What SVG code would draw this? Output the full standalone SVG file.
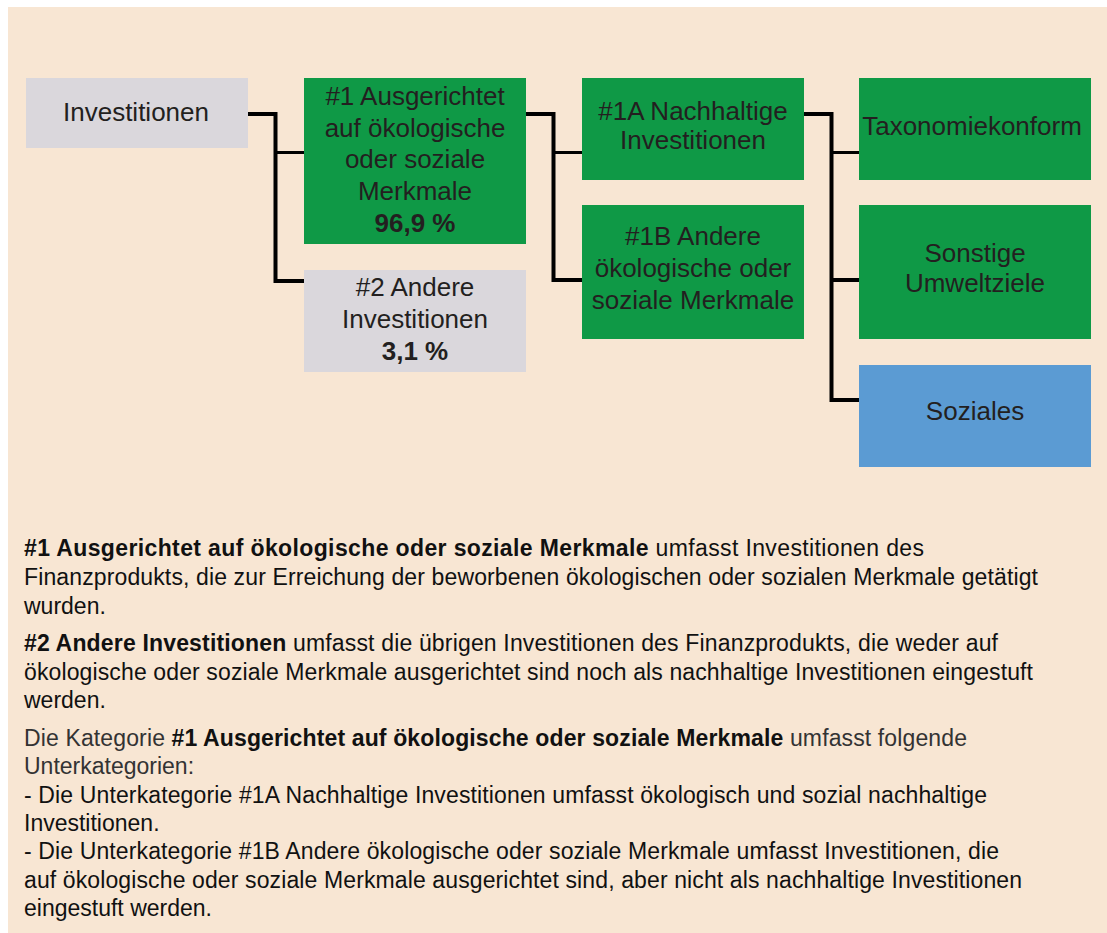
<svg xmlns="http://www.w3.org/2000/svg" width="1107" height="933" viewBox="0 0 1107 933">
<style>
.bg{fill:#F8E6D3}
.gray{fill:#DAD7DC}
.green{fill:#0F9946}
.blue{fill:#5B9BD3}
.bt{font-family:"Liberation Sans",Arial,sans-serif;font-size:26px;fill:#231F20;text-anchor:middle}
.b{font-weight:bold}
.ln{fill:none;stroke:#000;stroke-width:4;stroke-linejoin:miter;stroke-linecap:butt}
.br{fill:none;stroke:#000;stroke-width:3}
.tx{font-family:"Liberation Sans",Arial,sans-serif;font-size:23px;fill:#111}
.tx2{fill:#333}
</style>
<rect class="bg" x="8" y="7" width="1099" height="926"/>
<g id="connectors">
<path class="ln" d="M248 114 H275.5 V281 H304"/>
<path class="br" d="M275.5 152.5 H304"/>
<path class="ln" d="M526 114 H553.5 V280 H582"/>
<path class="br" d="M553.5 152.5 H582"/>
<path class="ln" d="M804 114 H831.5 V400 H859"/>
<path class="br" d="M831.5 152.5 H859"/>
<path class="ln" d="M831.5 280 H859"/>
</g>
<g id="node-investitionen">
<rect class="gray" x="26" y="78" width="222" height="70"/>
<text class="bt" x="136" y="121">Investitionen</text>
</g>
<g id="node-1">
<rect class="green" x="304" y="78" width="222" height="166"/>
<text class="bt" x="415" y="105">#1 Ausgerichtet</text>
<text class="bt" x="415" y="137">auf ökologische</text>
<text class="bt" x="415" y="168">oder soziale</text>
<text class="bt" x="415" y="200">Merkmale</text>
<text class="bt b" x="415" y="232">96,9 %</text>
</g>
<g id="node-2">
<rect class="gray" x="304" y="270" width="222" height="102"/>
<text class="bt" x="415" y="296">#2 Andere</text>
<text class="bt" x="415" y="328">Investitionen</text>
<text class="bt b" x="415" y="360">3,1 %</text>
</g>
<g id="node-1a">
<rect class="green" x="582" y="78" width="222" height="102"/>
<text class="bt" x="693" y="120">#1A Nachhaltige</text>
<text class="bt" x="693" y="149">Investitionen</text>
</g>
<g id="node-1b">
<rect class="green" x="582" y="205" width="222" height="134"/>
<text class="bt" x="693" y="245">#1B Andere</text>
<text class="bt" x="693" y="277">ökologische oder</text>
<text class="bt" x="693" y="309">soziale Merkmale</text>
</g>
<g id="node-taxonomie">
<rect class="green" x="859" y="78" width="232" height="102"/>
<text class="bt" x="972" y="135">Taxonomiekonform</text>
</g>
<g id="node-sonstige">
<rect class="green" x="859" y="205" width="232" height="134"/>
<text class="bt" x="975" y="262">Sonstige</text>
<text class="bt" x="975" y="292">Umweltziele</text>
</g>
<g id="node-soziales">
<rect class="blue" x="859" y="365" width="232" height="102"/>
<text class="bt" x="975" y="420">Soziales</text>
</g>
<g id="legend">
<text class="tx" x="24" y="556" textLength="900"><tspan font-weight="bold">#1 Ausgerichtet auf ökologische oder soziale Merkmale</tspan> umfasst Investitionen des</text>
<text class="tx" x="24" y="585" textLength="1014">Finanzprodukts, die zur Erreichung der beworbenen ökologischen oder sozialen Merkmale getätigt</text>
<text class="tx" x="24" y="614">wurden.</text>
<text class="tx" x="24" y="651" textLength="974"><tspan font-weight="bold">#2 Andere Investitionen</tspan> umfasst die übrigen Investitionen des Finanzprodukts, die weder auf</text>
<text class="tx" x="24" y="680" textLength="1009">ökologische oder soziale Merkmale ausgerichtet sind noch als nachhaltige Investitionen eingestuft</text>
<text class="tx" x="24" y="708">werden.</text>
<text class="tx tx2" x="24" y="746" textLength="943">Die Kategorie <tspan font-weight="bold" fill="#111">#1 Ausgerichtet auf ökologische oder soziale Merkmale</tspan> umfasst folgende</text>
<text class="tx tx2" x="24" y="774">Unterkategorien:</text>
<text class="tx" x="24" y="803" textLength="963">- Die Unterkategorie #1A Nachhaltige Investitionen umfasst ökologisch und sozial nachhaltige</text>
<text class="tx" x="24" y="831">Investitionen.</text>
<text class="tx" x="24" y="859" textLength="975">- Die Unterkategorie #1B Andere ökologische oder soziale Merkmale umfasst Investitionen, die</text>
<text class="tx" x="24" y="888" textLength="998">auf ökologische oder soziale Merkmale ausgerichtet sind, aber nicht als nachhaltige Investitionen</text>
<text class="tx" x="24" y="916">eingestuft werden.</text>
</g>
</svg>
